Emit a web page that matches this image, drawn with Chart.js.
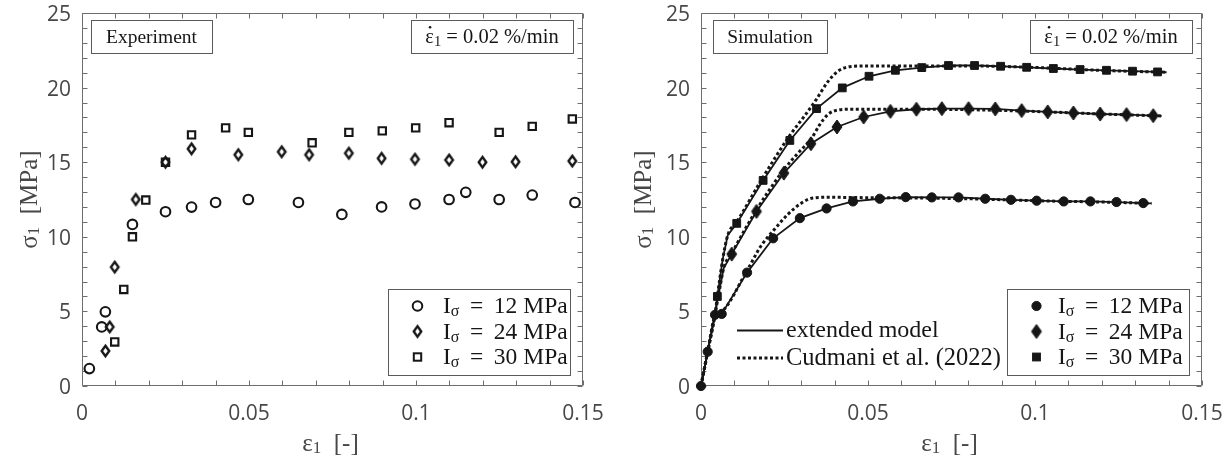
<!DOCTYPE html>
<html>
<head>
<meta charset="utf-8">
<script src="https://cdn.jsdelivr.net/npm/chart.js@4/dist/chart.umd.min.js"></script>
<style>
  body { margin: 0; background: #fff; }
  #wrap { position: relative; width: 1226px; height: 465px; background: #fff; overflow: hidden; }
  canvas { position: absolute; top: 0; }
  #expChart { left: 0; }
  #simChart { left: 613px; }
</style>
</head>
<body>
<div id="wrap">
  <canvas id="expChart" width="613" height="465"></canvas>
  <canvas id="simChart" width="613" height="465"></canvas>
</div>
<script>
// experiment: axial strain [-] / axial stress [MPa]
const exp12Strain = [0.0022, 0.0059, 0.007, 0.0151, 0.025, 0.0328, 0.040, 0.0498, 0.0648, 0.0778, 0.0897, 0.0997, 0.1099, 0.1149, 0.1249, 0.1348, 0.1476];
const exp12Stress = [1.17, 3.96, 4.97, 10.83, 11.68, 11.99, 12.3, 12.5, 12.3, 11.5, 12.0, 12.2, 12.5, 12.98, 12.5, 12.8, 12.3];
const exp24Strain = [0.007, 0.0083, 0.0098, 0.0161, 0.025, 0.0328, 0.0468, 0.0598, 0.068, 0.0799, 0.0897, 0.0997, 0.1099, 0.1199, 0.1298, 0.1468];
const exp24Stress = [2.35, 3.96, 7.97, 12.5, 15.0, 15.9, 15.5, 15.7, 15.5, 15.6, 15.26, 15.2, 15.15, 15.0, 15.03, 15.08];
const exp30Strain = [0.0098, 0.0125, 0.0151, 0.0191, 0.025, 0.0328, 0.043, 0.0498, 0.0689, 0.0799, 0.0899, 0.0999, 0.1099, 0.1249, 0.1348, 0.1468];
const exp30Stress = [2.95, 6.47, 10.0, 12.46, 15.0, 16.83, 17.3, 17.0, 16.3, 17.0, 17.1, 17.3, 17.65, 17.0, 17.4, 17.9];

// simulation, extended model (marker flag 1 = symbol drawn at that point)
const sim12Strain = [0, 0.002, 0.0042, 0.0062, 0.0138, 0.0216, 0.0296, 0.0376, 0.0455, 0.0535, 0.0613, 0.0691, 0.0771, 0.0851, 0.0928, 0.1005, 0.1086, 0.1166, 0.1244, 0.1324, 0.1349];
const sim12Stress = [0, 2.3, 4.77, 4.83, 7.6, 9.9, 11.25, 11.9, 12.37, 12.55, 12.66, 12.64, 12.64, 12.55, 12.48, 12.42, 12.37, 12.37, 12.33, 12.26, 12.24];
const sim12Marker = [1, 1, 1, 1, 1, 1, 1, 1, 1, 1, 1, 1, 1, 1, 1, 1, 1, 1, 1, 1, 0];
const sim24Strain = [0, 0.002, 0.0042, 0.0055, 0.0068, 0.0092, 0.0166, 0.0248, 0.0329, 0.0407, 0.0487, 0.0567, 0.0645, 0.0721, 0.0801, 0.0881, 0.096, 0.1038, 0.1115, 0.1195, 0.1274, 0.1354, 0.1379];
const sim24Stress = [0, 2.3, 4.8, 6.4, 7.9, 8.84, 11.7, 14.27, 16.24, 17.36, 18.03, 18.41, 18.55, 18.59, 18.59, 18.57, 18.46, 18.37, 18.3, 18.23, 18.19, 18.12, 18.1];
const sim24Marker = [0, 0, 0, 0, 0, 1, 1, 1, 1, 1, 1, 1, 1, 1, 1, 1, 1, 1, 1, 1, 1, 1, 0];
const sim30Strain = [0, 0.002, 0.0042, 0.0049, 0.0065, 0.008, 0.0107, 0.0186, 0.0266, 0.0346, 0.0423, 0.0503, 0.0582, 0.0661, 0.0741, 0.0819, 0.0897, 0.0975, 0.1055, 0.1135, 0.1214, 0.1292, 0.1367, 0.1394];
const sim30Stress = [0, 2.3, 4.8, 6.0, 8.5, 10.1, 10.9, 13.78, 16.46, 18.59, 19.98, 20.76, 21.16, 21.34, 21.48, 21.48, 21.43, 21.36, 21.28, 21.21, 21.16, 21.1, 21.05, 21.03];
const sim30Marker = [0, 0, 0, 1, 0, 0, 1, 1, 1, 1, 1, 1, 1, 1, 1, 1, 1, 1, 1, 1, 1, 1, 1, 0];

// Cudmani et al. (2022)
const ref12Strain = [0, 0.002, 0.0042, 0.0062, 0.0138, 0.018, 0.022, 0.026, 0.03, 0.0335, 0.038, 0.05, 0.065, 0.08, 0.1, 0.12, 0.1349];
const ref12Stress = [0, 2.3, 4.7, 5.0, 7.75, 9.4, 10.5, 11.5, 12.25, 12.6, 12.65, 12.62, 12.6, 12.55, 12.42, 12.33, 12.24];
const ref24Strain = [0, 0.002, 0.0042, 0.0055, 0.0068, 0.0092, 0.0166, 0.0248, 0.029, 0.0331, 0.0355, 0.038, 0.041, 0.045, 0.06, 0.08, 0.1, 0.12, 0.1379];
const ref24Stress = [0, 2.3, 4.8, 6.4, 7.9, 8.9, 11.8, 14.5, 15.6, 16.6, 17.5, 18.2, 18.5, 18.55, 18.55, 18.52, 18.4, 18.23, 18.1];
const ref30Strain = [0, 0.002, 0.0042, 0.0049, 0.0065, 0.008, 0.0107, 0.0186, 0.0266, 0.031, 0.0345, 0.038, 0.041, 0.0445, 0.05, 0.065, 0.08, 0.1, 0.12, 0.1394];
const ref30Stress = [0, 2.3, 4.8, 6.0, 8.5, 10.1, 11.0, 14.0, 16.8, 18.1, 19.2, 20.4, 21.1, 21.4, 21.45, 21.45, 21.45, 21.35, 21.15, 21.03];

const seriesLabels = ['12', '24', '30'];
const xTicks = [0, 0.05, 0.1, 0.15];

const SERIF = '"Liberation Serif", "Times New Roman", serif';
const SANS = '"Open Sans", "Noto Sans", sans-serif';
const INK = '#161616';
const AXIS = '#6e6e6e';
const LABEL = '#474747';

const pts = (xs, ys) => xs.map((x, i) => ({ x, y: ys[i] }));

// MATLAB-like diamond (taller than wide)
function makeDiamond(w, h, filled) {
  const c = document.createElement('canvas');
  c.width = w + 8; c.height = h + 8;
  const g = c.getContext('2d');
  const cx = c.width / 2, cy = c.height / 2;
  g.beginPath();
  g.moveTo(cx, cy - h / 2); g.lineTo(cx + w / 2, cy); g.lineTo(cx, cy + h / 2); g.lineTo(cx - w / 2, cy);
  g.closePath();
  g.lineJoin = 'miter';
  g.lineWidth = filled ? 1 : 2.4;
  g.strokeStyle = INK;
  if (filled) { g.fillStyle = INK; g.fill(); }
  g.stroke();
  return c;
}
const openDiamond = makeDiamond(7.5, 10.5, false);
const fullDiamond = makeDiamond(10, 14, true);

// text with sub/superscript pieces: [text, size, dy]
function runWidth(ctx, parts) {
  let w = 0;
  for (const p of parts) { ctx.font = p[1] + 'px ' + SERIF; w += ctx.measureText(p[0]).width; }
  return w;
}
function drawRun(ctx, x, y, parts) {
  let cx = x;
  for (const p of parts) {
    ctx.font = p[1] + 'px ' + SERIF;
    ctx.fillText(p[0], cx, y + (p[2] || 0));
    const w = ctx.measureText(p[0]).width;
    if (p[3] === 'dot') {
      ctx.beginPath(); ctx.arc(cx + w * 0.55, y - p[1] * 0.5, 1.3, 0, Math.PI * 2); ctx.fill();
    }
    cx += w;
  }
  return cx;
}

function drawMarker(ctx, kind, x, y, filled) {
  ctx.save();
  ctx.strokeStyle = INK; ctx.fillStyle = INK;
  ctx.lineWidth = filled ? 1 : 2;
  if (kind === 'circle') {
    ctx.beginPath(); ctx.arc(x, y, filled ? 4.6 : 4.8, 0, Math.PI * 2);
    if (filled) ctx.fill(); ctx.stroke();
  } else if (kind === 'rect') {
    const s = filled ? 7.8 : 7.4;
    if (filled) ctx.fillRect(x - s / 2, y - s / 2, s, s);
    ctx.strokeRect(x - s / 2, y - s / 2, s, s);
  } else {
    const img = filled ? fullDiamond : openDiamond;
    ctx.drawImage(img, x - img.width / 2, y - img.height / 2);
  }
  ctx.restore();
}

// axes box, inward ticks on all four sides, axis titles
const frame = {
  id: 'frame',
  beforeDatasetsDraw(chart, args, opts) {
    const { ctx, chartArea: a, scales } = chart;
    ctx.save();
    ctx.strokeStyle = AXIS; ctx.lineWidth = 1;
    ctx.beginPath();
    const L = Math.round(a.left) + 0.5, R = Math.round(a.right) - 0.5;
    const T = Math.round(a.top) + 0.5, B = Math.round(a.bottom) - 0.5;
    ctx.rect(L, T, R - L, B - T);
    for (let i = 0; i <= 15; i++) {
      const px = Math.round(scales.x.getPixelForValue(i / 100)) + 0.5;
      ctx.moveTo(px, B); ctx.lineTo(px, B - 5);
      ctx.moveTo(px, T); ctx.lineTo(px, T + 5);
    }
    for (let j = 0; j <= 25; j++) {
      const py = Math.round(scales.y.getPixelForValue(j)) + 0.5;
      ctx.moveTo(L, py); ctx.lineTo(L + 5, py);
      ctx.moveTo(R, py); ctx.lineTo(R - 5, py);
    }
    ctx.stroke();

    ctx.fillStyle = LABEL;
    ctx.textBaseline = 'middle';
    ctx.textAlign = 'left';
    // x title: eps_1 [-]
    const xParts = [['\u03b5', 25], ['1', 17, 5], ['  [-]', 25]];
    const xw = runWidth(ctx, xParts);
    drawRun(ctx, (a.left + a.right) / 2 - xw / 2 - 2, 444, xParts);
    // y title: sigma_1 [MPa]
    const yParts = [['\u03c3', 25], ['1', 17, 5], ['  [MPa]', 25]];
    const yw = runWidth(ctx, yParts);
    ctx.translate(a.left - opts.titleGap, (a.top + a.bottom) / 2);
    ctx.rotate(-Math.PI / 2);
    drawRun(ctx, -yw / 2, 0, yParts);
    ctx.restore();
  }
};

// panel label, rate box and legends
const decor = {
  id: 'decor',
  afterDatasetsDraw(chart, args, opts) {
    const { ctx, chartArea: a } = chart;
    ctx.save();
    ctx.lineWidth = 1;
    ctx.strokeStyle = '#5a5a5a';
    ctx.textBaseline = 'middle';
    ctx.textAlign = 'left';

    const box = (x, y, w, h) => {
      ctx.fillStyle = '#fff';
      ctx.fillRect(x, y, w, h);
      ctx.strokeRect(Math.round(x) + 0.5, Math.round(y) + 0.5, Math.round(w), Math.round(h));
    };

    // panel name
    const pw = opts.panelWidth;
    box(a.left + opts.panelGap, a.top + 7, pw, 33);
    ctx.fillStyle = INK;
    const np = [[opts.panel, 19.5]];
    drawRun(ctx, a.left + opts.panelGap + pw / 2 - runWidth(ctx, np) / 2, a.top + 24.5, np);

    // strain rate
    box(a.right - 10 - 162, a.top + 7, 162, 33);
    ctx.fillStyle = INK;
    const rp = [['\u03b5', 20.5, 0, 'dot'], ['1', 14.5, 5], [' = 0.02 %/min', 20.5]];
    drawRun(ctx, a.right - 10 - 81 - runWidth(ctx, rp) / 2, a.top + 24.5, rp);

    // marker legend
    const lx = a.right - 195, ly = a.bottom - 11 - 86;
    box(lx, ly, 182, 86);
    const kinds = ['circle', 'rectRot', 'rect'];
    seriesLabels.forEach((s, i) => {
      const ry = ly + 17 + i * 25.5;
      drawMarker(ctx, kinds[i], lx + 29.5, ry, opts.filled);
      ctx.fillStyle = INK;
      drawRun(ctx, lx + opts.textGap, ry + 1, [['I', 23.5], ['\u03c3', 16, 5], [' \u2009=\u2009 ' + s + ' MPa', 23.5]]);
    });

    // line-style legend
    if (opts.lineKey) {
      const x0 = a.left + 36, x1 = a.left + 82;
      ctx.strokeStyle = INK;
      ctx.lineWidth = 2;
      ctx.beginPath(); ctx.moveTo(x0, 330.5); ctx.lineTo(x1, 330.5); ctx.stroke();
      ctx.lineWidth = 3.2;
      ctx.setLineDash([3, 2.5]);
      ctx.beginPath(); ctx.moveTo(x0, 358); ctx.lineTo(x1, 358); ctx.stroke();
      ctx.setLineDash([]);
      ctx.fillStyle = INK;
      drawRun(ctx, a.left + 85, 331, [['extended model', 24]]);
      drawRun(ctx, a.left + 85, 359, [['Cudmani et al. (2022)', 24.5]]);
    }
    ctx.restore();
  }
};

function baseOptions(yWidth, padRight, extra) {
  return {
    responsive: false,
    animation: false,
    devicePixelRatio: 1,
    events: [],
    layout: { padding: { top: 13, right: padRight, left: 0, bottom: 0 } },
    plugins: {
      legend: { display: false },
      tooltip: { enabled: false },
      frame: { titleGap: extra.titleGap },
      decor: extra
    },
    scales: {
      x: {
        type: 'linear', min: 0, max: 0.15,
        grid: { display: false, drawTicks: false },
        border: { display: false },
        afterFit: s => { s.height = 79; s.paddingLeft = 0; s.paddingRight = 0; },
        afterBuildTicks: s => { s.ticks = xTicks.map(v => ({ value: v })); },
        ticks: {
          padding: 15, color: LABEL, maxRotation: 0,
          font: { family: SANS, size: 21 },
          callback: v => String(+v.toFixed(2))
        }
      },
      y: {
        type: 'linear', min: 0, max: 25,
        grid: { display: false, drawTicks: false },
        border: { display: false },
        afterFit: s => { s.width = yWidth; s.paddingTop = 0; s.paddingBottom = 0; },
        ticks: {
          stepSize: 5, padding: 11, color: LABEL, labelOffset: 2,
          font: { family: SANS, size: 21 }
        }
      }
    }
  };
}

function openSet(xs, ys, style, radius) {
  return {
    data: pts(xs, ys), showLine: false, clip: false,
    pointStyle: style, pointRadius: radius, pointBorderWidth: 2.1,
    pointBorderColor: INK, pointBackgroundColor: 'rgba(0,0,0,0)'
  };
}

new Chart(document.getElementById('expChart'), {
  type: 'scatter',
  data: {
    datasets: [
      openSet(exp12Strain, exp12Stress, 'circle', 4.8),
      openSet(exp24Strain, exp24Stress, openDiamond, 5),
      openSet(exp30Strain, exp30Stress, 'rect', 5.2)
    ]
  },
  options: baseOptions(82, 30, { titleGap: 52, panel: 'Experiment', panelGap: 9, panelWidth: 121, filled: false, lineKey: false, textGap: 55 }),
  plugins: [frame, decor]
});

function refSet(xs, ys) {
  return {
    data: pts(xs, ys), showLine: true, clip: false,
    borderColor: INK, borderWidth: 3, borderDash: [3, 2.5],
    cubicInterpolationMode: 'monotone', pointRadius: 0
  };
}
function modelSet(xs, ys, flags, style, radius) {
  return {
    data: pts(xs, ys), showLine: true, clip: false,
    borderColor: INK, borderWidth: 1.8, tension: 0,
    pointStyle: flags.map(f => f ? style : 'circle'),
    pointRadius: flags.map(f => f ? radius : 0),
    pointBorderWidth: 1, pointBorderColor: INK, pointBackgroundColor: INK
  };
}

new Chart(document.getElementById('simChart'), {
  type: 'scatter',
  data: {
    datasets: [
      refSet(ref12Strain, ref12Stress),
      refSet(ref24Strain, ref24Stress),
      refSet(ref30Strain, ref30Stress),
      modelSet(sim12Strain, sim12Stress, sim12Marker, 'circle', 4.6),
      modelSet(sim24Strain, sim24Stress, sim24Marker, fullDiamond, 5),
      modelSet(sim30Strain, sim30Stress, sim30Marker, 'rect', 5.5)
    ]
  },
  options: baseOptions(88, 24, { titleGap: 57, panel: 'Simulation', panelGap: 12, panelWidth: 114, filled: true, lineKey: true, textGap: 51 }),
  plugins: [frame, decor]
});
</script>
</body>
</html>
